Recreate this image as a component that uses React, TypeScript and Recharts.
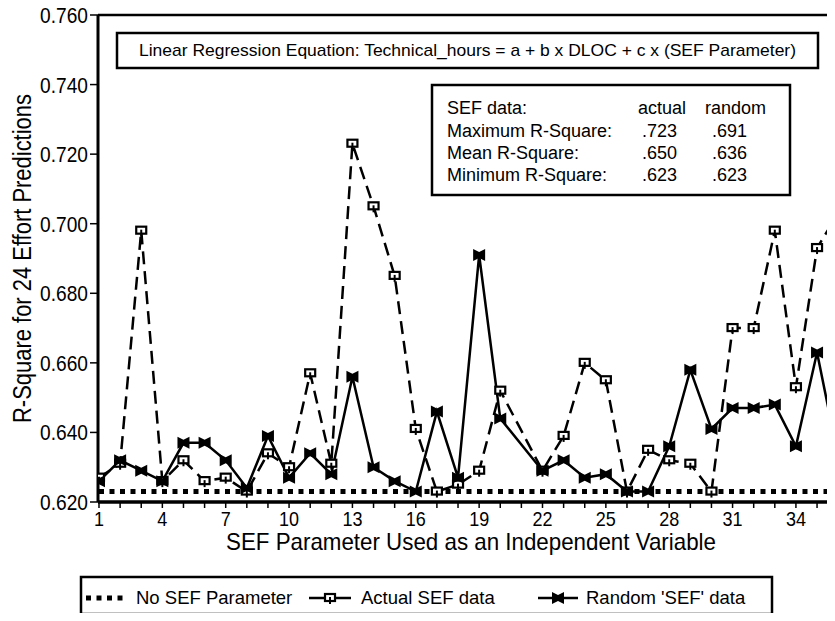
import { LineChart, Line, XAxis, YAxis, ReferenceLine } from 'recharts'

/* ─── Data ─── */

// SEF parameter number used as the independent variable (21 has no point)
const PARAMS = [
  1, 2, 3, 4, 5, 6, 7, 8, 9, 10, 11, 12, 13, 14, 15, 16, 17, 18,
  19, 20, 21, 22, 23, 24, 25, 26, 27, 28, 29, 30, 31, 32, 33, 34, 35, 36,
]

const ACTUAL_SEF = [
  0.627, 0.631, 0.698, 0.626, 0.632, 0.626, 0.627, 0.623, 0.634, 0.63, 0.657, 0.631,
  0.723, 0.705, 0.685, 0.641, 0.623, 0.625, 0.629, 0.652, null, 0.629, 0.639, 0.66,
  0.655, 0.623, 0.635, 0.632, 0.631, 0.623, 0.67, 0.67, 0.698, 0.653, 0.693, 0.703,
]

const RANDOM_SEF = [
  0.626, 0.632, 0.629, 0.626, 0.637, 0.637, 0.632, 0.624, 0.639, 0.627, 0.634, 0.628,
  0.656, 0.63, 0.626, 0.623, 0.646, 0.627, 0.691, 0.644, null, 0.629, 0.632, 0.627,
  0.628, 0.623, 0.623, 0.636, 0.658, 0.641, 0.647, 0.647, 0.648, 0.636, 0.663, 0.633,
]

const NO_SEF_R2 = 0.623

const Y_TICKS = [0.62, 0.64, 0.66, 0.68, 0.7, 0.72, 0.74, 0.76]
const X_TICKS = [
  1, 2, 3, 4, 5, 6, 7, 8, 9, 10, 11, 12, 13, 14, 15, 16, 17, 18,
  19, 20, 21, 22, 23, 24, 25, 26, 27, 28, 29, 30, 31, 32, 33, 34, 35,
]
const X_LABELS = [1, 4, 7, 10, 13, 16, 19, 22, 25, 28, 31, 34]

const STATS_ROWS = [
  { label: 'Maximum R-Square:', actual: '.723', random: '.691' },
  { label: 'Mean R-Square:', actual: '.650', random: '.636' },
  { label: 'Minimum R-Square:', actual: '.623', random: '.623' },
]

const data = PARAMS.map((p, i) => ({
  param: p,
  actual: ACTUAL_SEF[i],
  random: RANDOM_SEF[i],
  none: NO_SEF_R2,
}))

const FONT = '"Liberation Sans", Arial, Helvetica, sans-serif'

/* ─── Markers ─── */

function ActualDot({ cx, cy, index }: any) {
  if (cx == null || cy == null) return <g key={`a-${index}`} />
  return (
    <g key={`a-${index}`}>
      <rect x={cx - 5} y={cy - 4} width={10} height={7} fill="#fff" stroke="#000" strokeWidth={2.2} />
      <line x1={cx} y1={cy - 1} x2={cx} y2={cy + 6} stroke="#000" strokeWidth={2} />
    </g>
  )
}

function RandomDot({ cx, cy, index }: any) {
  if (cx == null || cy == null) return <g key={`r-${index}`} />
  const d = `M${cx - 6},${cy - 6} L${cx},${cy - 3} L${cx + 6},${cy - 6} L${cx + 6},${cy + 6} L${cx},${cy + 3} L${cx - 6},${cy + 6} Z`
  return <path key={`r-${index}`} d={d} fill="#000" />
}

/* ─── Ticks and titles ─── */

function YTick({ x, y, payload }: any) {
  return (
    <g transform={`translate(${x},${y})`}>
      <text dy={8} textAnchor="end" fontSize={22} fontFamily={FONT} fill="#000" transform="scale(0.87,1)">
        {Number(payload.value).toFixed(3)}
      </text>
    </g>
  )
}

function XTick({ x, y, payload }: any) {
  if (!X_LABELS.includes(payload.value)) return <g />
  return (
    <g transform={`translate(${x},${y})`}>
      <text dy={16} textAnchor="middle" fontSize={20} fontFamily={FONT} fill="#000" transform="scale(0.9,1)">
        {payload.value}
      </text>
    </g>
  )
}

function YTitle(props: any) {
  const vb = props.viewBox || { x: 0, y: 15, width: 98, height: 487 }
  const cx = vb.x + 22
  const cy = vb.y + vb.height / 2
  return (
    <text
      x={cx}
      y={cy}
      transform={`rotate(-90 ${cx} ${cy})`}
      textAnchor="middle"
      dominantBaseline="central"
      fontSize={25}
      fontFamily={FONT}
      textLength={329}
      lengthAdjust="spacingAndGlyphs"
      fill="#000"
    >
      R-Square for 24 Effort Predictions
    </text>
  )
}

function XTitle(props: any) {
  const vb = props.viewBox || { x: 98, y: 502, width: 737, height: 60 }
  return (
    <text
      x={vb.x + 373}
      y={vb.y + 48}
      textAnchor="middle"
      fontSize={24}
      fontFamily={FONT}
      textLength={490}
      lengthAdjust="spacingAndGlyphs"
      fill="#000"
    >
      SEF Parameter Used as an Independent Variable
    </text>
  )
}

/* ─── Main component ─── */

export default function App() {
  return (
    <div style={{ position: 'relative', width: 835, height: 621, margin: -8, background: '#fff' }}>
      <LineChart width={835} height={621} data={data} margin={{ top: 15, right: 0, left: 0, bottom: 59 }}>
        <XAxis
          dataKey="param"
          type="number"
          domain={[0.953, 35.85]}
          allowDataOverflow
          ticks={X_TICKS}
          interval={0}
          height={60}
          tickSize={6}
          tickMargin={2}
          axisLine={{ stroke: '#000', strokeWidth: 3.5 }}
          tickLine={{ stroke: '#000', strokeWidth: 1.5 }}
          tick={<XTick />}
          label={(p: any) => <XTitle {...p} />}
        />
        <YAxis
          type="number"
          domain={[0.62, 0.76]}
          allowDataOverflow
          ticks={Y_TICKS}
          width={98}
          tickSize={8}
          tickMargin={2}
          axisLine={{ stroke: '#000', strokeWidth: 3 }}
          tickLine={{ stroke: '#000', strokeWidth: 1.5 }}
          tick={<YTick />}
          label={(p: any) => <YTitle {...p} />}
        />
        <ReferenceLine y={0.76} stroke="#000" strokeWidth={2.5} />
        <Line
          dataKey="none"
          stroke="#000"
          strokeWidth={5}
          strokeDasharray="5 5.5"
          dot={false}
          isAnimationActive={false}
        />
        <Line
          dataKey="actual"
          stroke="#000"
          strokeWidth={2.5}
          strokeDasharray="13 7"
          connectNulls
          dot={(p: any) => <ActualDot key={`a-${p.index}`} {...p} />}
          isAnimationActive={false}
        />
        <Line
          dataKey="random"
          stroke="#000"
          strokeWidth={2.5}
          connectNulls
          dot={(p: any) => <RandomDot key={`r-${p.index}`} {...p} />}
          isAnimationActive={false}
        />
      </LineChart>

      {/* Annotation boxes and legend */}
      <svg width={835} height={621} style={{ position: 'absolute', left: 0, top: 0, pointerEvents: 'none' }}>
        <rect x={117} y={33} width={701} height={35} fill="#fff" stroke="#000" strokeWidth={2.5} />
        <text
          x={467.5}
          y={56}
          textAnchor="middle"
          fontSize={17}
          fontFamily={FONT}
          textLength={657}
          lengthAdjust="spacingAndGlyphs"
        >
          Linear Regression Equation:  Technical_hours = a + b x DLOC + c x (SEF Parameter)
        </text>

        <rect x={432} y={85} width={358} height={110} fill="#fff" stroke="#000" strokeWidth={2.5} />
        <g fontSize={18} fontFamily={FONT} fill="#000">
          <text x={447} y={114}>SEF data:</text>
          <text x={638} y={114}>actual</text>
          <text x={705} y={114}>random</text>
          {STATS_ROWS.map((r, i) => (
            <g key={r.label}>
              <text x={447} y={137 + i * 22}>{r.label}</text>
              <text x={642} y={137 + i * 22}>{r.actual}</text>
              <text x={712} y={137 + i * 22}>{r.random}</text>
            </g>
          ))}
        </g>

        <rect x={81} y={577} width={691} height={37} fill="#fff" stroke="#000" strokeWidth={2.5} />
        <line x1={86} y1={598} x2={125} y2={598} stroke="#000" strokeWidth={5} strokeDasharray="5 5.5" />
        <line x1={309} y1={598} x2={351} y2={598} stroke="#000" strokeWidth={2.5} />
        <ActualDot cx={330} cy={598} index="legend" />
        <line x1={538} y1={598} x2={578} y2={598} stroke="#000" strokeWidth={2.5} />
        <RandomDot cx={558} cy={598} index="legend" />
        <g fontSize={18.5} fontFamily={FONT} fill="#000">
          <text x={136} y={604}>No SEF Parameter</text>
          <text x={361} y={604}>Actual SEF data</text>
          <text x={586} y={604}>Random 'SEF' data</text>
        </g>
      </svg>
    </div>
  )
}
